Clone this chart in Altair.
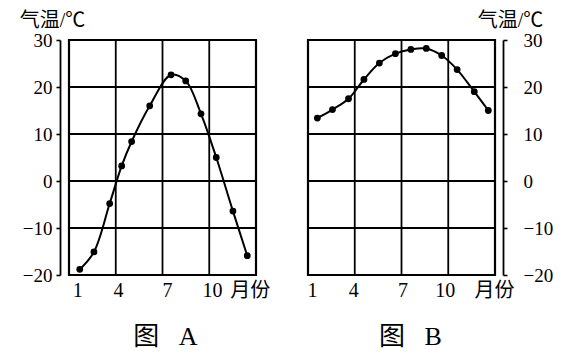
import altair as alt
import pandas as pd

# ---- data ----
months = list(range(1, 13))
# horizontal position of each monthly dot, in month units on a 0..12 axis
month_pos_a = [0.69, 1.60, 2.61, 3.38, 4.02, 5.18, 6.55, 7.49, 8.47, 9.45, 10.52, 11.44]
temp_a = [-18.8, -15.1, -4.8, 3.2, 8.4, 16.0, 22.6, 21.3, 14.3, 5.0, -6.4, -15.9]
month_pos_b = [0.60, 1.57, 2.60, 3.59, 4.58, 5.61, 6.60, 7.59, 8.58, 9.57, 10.67, 11.57]
temp_b = [13.4, 15.2, 17.5, 21.6, 25.1, 27.1, 28.0, 28.2, 26.7, 23.7, 19.0, 15.0]

grid_months = [3, 6, 9]
grid_temps = [-10, 0, 10, 20]
y_ticks = [-20, -15, -10, -5, 0, 5, 10, 15, 20, 25, 30]
x_label_text = ["1", "4", "7", "10", "月份"]
x_label_pos_a = [0.53, 3.15, 6.29, 9.18, 11.6]
x_label_pos_b = [0.26, 2.9, 6.06, 8.77, 11.94]
y_title = "气温/℃"
panel_titles = ["图\u00a0\u00a0 A", "图\u00a0\u00a0 B"]

FONT = "'Liberation Serif', 'Times New Roman', 'Noto Sans CJK SC', serif"


def label_expr(positions, texts):
    expr = "''"
    for p, t in reversed(list(zip(positions, texts))):
        expr = f"abs(datum.value - {p}) < 0.001 ? '{t}' : ({expr})"
    return expr


def panel(pos, temps, xlab_pos, side, title, title_dx):
    x_scale = alt.Scale(domain=[0, 12], nice=False, zero=False)
    y_scale = alt.Scale(domain=[-20, 30], nice=False, zero=False)

    x_axis = alt.Axis(
        values=xlab_pos, labelExpr=label_expr(xlab_pos, x_label_text),
        ticks=False, domain=False, grid=False, title=None,
        labelFont=FONT, labelFontSize=20, labelColor="black",
        labelPadding=5, labelFlush=False, labelOverlap=False,
    )
    common = dict(
        values=y_ticks,
        labelExpr="datum.value % 10 == 0 ? datum.label : ''",
        tickSize=4, tickWidth=1.6, tickColor="black",
        domainColor="black", domainWidth=1.8, grid=False,
        labelFont=FONT, labelFontSize=19, labelColor="black",
        labelOverlap=False,
        title=y_title, titleAngle=0, titleY=-20,
        titleAlign="center", titleBaseline="middle",
        titleFont=FONT, titleFontSize=20, titleFontWeight="normal",
        titleColor="black",
    )
    if side == "left":
        y_axis = alt.Axis(orient="left", offset=9, labelPadding=4, titleX=-8, **common)
    else:
        y_axis = alt.Axis(orient="right", offset=8, labelPadding=16, titleX=7, **common)

    df = pd.DataFrame({"month": months, "x": pos, "t": temps})

    vgrid = alt.Chart(pd.DataFrame({"x": grid_months})).mark_rule(
        color="black", strokeWidth=1.8
    ).encode(x=alt.X("x:Q", scale=x_scale, axis=x_axis))
    hgrid = alt.Chart(pd.DataFrame({"t": grid_temps})).mark_rule(
        color="black", strokeWidth=1.8
    ).encode(y=alt.Y("t:Q", scale=y_scale, axis=y_axis))
    line = alt.Chart(df).mark_line(
        color="black", strokeWidth=2, interpolate="catmull-rom"
    ).encode(x=alt.X("x:Q", scale=x_scale), y=alt.Y("t:Q", scale=y_scale))
    dots = alt.Chart(df).mark_circle(color="black", size=46, opacity=1).encode(
        x=alt.X("x:Q", scale=x_scale), y=alt.Y("t:Q", scale=y_scale)
    )
    return alt.layer(vgrid, hgrid, line, dots).properties(
        width=187, height=235,
        title=alt.TitleParams(
            text=title, orient="bottom", font=FONT, fontSize=26,
            fontWeight="normal", color="black", offset=24, dx=title_dx,
        ),
    )


chart_a = panel(month_pos_a, temp_a, x_label_pos_a, "left", panel_titles[0], 3)
chart_b = panel(month_pos_b, temp_b, x_label_pos_b, "right", panel_titles[1], 9)

chart = alt.hconcat(chart_a, chart_b, spacing=52, bounds="flush").properties(
    padding={"left": 10, "top": 0, "right": 0, "bottom": 0},
    background="white",
).configure_view(stroke="black", strokeWidth=2.2)

chart.save("out.html", embed_options={"renderer": "svg", "actions": False})
